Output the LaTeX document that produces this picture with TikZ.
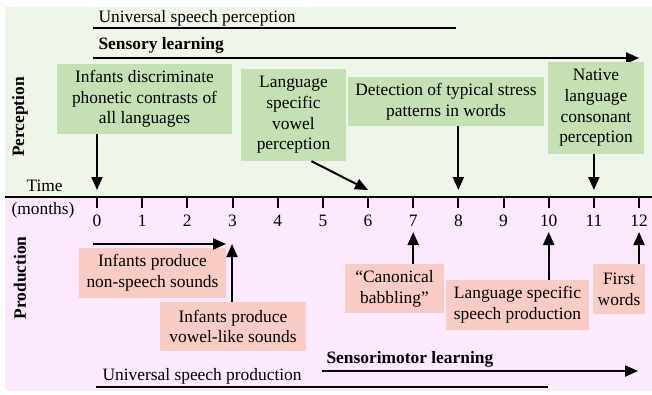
\documentclass[tikz,border=0pt]{standalone}
\usepackage{fontspec}
\setmainfont{Liberation Serif}
\usetikzlibrary{arrows.meta}
\definecolor{percbg}{HTML}{EEF5E9}
\definecolor{prodbg}{HTML}{FDE9FD}
\definecolor{percbox}{HTML}{C5E0B4}
\definecolor{prodbox}{HTML}{F8CBC5}

\begin{document}
\begin{tikzpicture}[
  x=1pt, y=-1pt,
  font=\fontsize{17.4}{20.7}\selectfont,
  boldlabel/.style={font=\fontsize{17.4}{20.7}\selectfont\bfseries},
  percnode/.style={fill=percbox,align=center,inner sep=0pt},
  prodnode/.style={fill=prodbox,align=center,inner sep=0pt},
  arr/.style={line width=2pt,-{Triangle[length=13pt,width=11pt]}},
  bar/.style={line width=2pt}
]
\useasboundingbox (0,0) rectangle (652,394);
\fill[percbg] (5,7) rectangle (652,197);
\fill[prodbg] (5,197) rectangle (652,391);

\draw[line width=2.5pt] (5,197) -- (652,197);
\foreach \m in {0,...,12} {
  \coordinate (t\m) at ({97+45.17*\m},197);
  \coordinate (a\m) at ({97+45.17*\m},190);
  \coordinate (b\m) at ({97+45.17*\m},232);
  \draw[line width=2pt] (t\m) -- ++(0,11);
  \node[anchor=base] (n\m) at ({97+45.17*\m},226) {\m};
}

\node[anchor=base west] (time) at (23,191) {Time};
\node[anchor=base west] (months) at (8,214) {(months)};
\node[boldlabel,rotate=90] (perc) at (20,117) {Perception};
\node[boldlabel,rotate=90] (prod) at (20,278) {Production};

\node[anchor=base west] (usp) at (95,22) {Universal speech perception};
\coordinate (usp-s) at (93,28);
\coordinate (usp-e) at (456,28);
\draw[bar] (usp-s) -- (usp-e);
\node[boldlabel,anchor=base west] (sens) at (95,49) {Sensory learning};
\coordinate (sens-s) at (93,58);
\coordinate (sens-e) at (639,58);
\draw[arr] (sens-s) -- (sens-e);

\node[percnode,minimum width=175pt,minimum height=70pt] (disc) at (144.5,99) {Infants discriminate\\phonetic contrasts of\\all languages};
\node[percnode,minimum width=105pt,minimum height=92pt] (vowel) at (293.5,115) {Language\\specific\\vowel\\perception};
\node[percnode,minimum width=196pt,minimum height=49pt] (stress) at (446,101.5) {Detection of typical stress\\patterns in words};
\node[percnode,minimum width=96pt,minimum height=92pt] (cons) at (596,108) {Native\\language\\consonant\\perception};

\draw[arr] (disc.south -| a0) -- (a0);
\draw[arr] ([xshift=18pt]vowel.south) -- (a6);
\draw[arr] (stress.south -| a8) -- (a8);
\draw[arr] (cons.south -| a11) -- (a11);

\node[prodnode,minimum width=147pt,minimum height=50pt] (nonsp) at (152.5,273) {Infants produce\\non-speech sounds};
\node[prodnode,minimum width=146pt,minimum height=49pt] (vlike) at (233,326.5) {Infants produce\\vowel-like sounds};
\node[prodnode,minimum width=99pt,minimum height=49pt] (canon) at (394.5,288.5) {``Canonical\\babbling''};
\node[prodnode,minimum width=143pt,minimum height=50pt] (lsp) at (517.5,305) {Language specific\\speech production};
\node[prodnode,minimum width=52pt,minimum height=50pt] (first) at (619,289) {First\\words};

\coordinate (c3) at (232,244);
\coordinate (ns-s) at (93,244);
\coordinate (ns-e) at (226,244);
\draw[arr] (ns-s) -- (ns-e);
\draw[arr] (vlike.north -| c3) -- (c3);
\draw[arr] (canon.north -| b7) -- (b7);
\draw[arr] (lsp.north -| b10) -- (b10);
\draw[arr] (first.north -| b12) -- (b12);

\node[boldlabel,anchor=base west] (smot) at (323,363) {Sensorimotor learning};
\coordinate (smot-s) at (322,371);
\coordinate (smot-e) at (638,371);
\draw[arr] (smot-s) -- (smot-e);
\node[anchor=base west] (uspr) at (99,380) {Universal speech production};
\coordinate (uspr-s) at (96,387);
\coordinate (uspr-e) at (548,387);
\draw[bar] (uspr-s) -- (uspr-e);
\end{tikzpicture}
\end{document}
